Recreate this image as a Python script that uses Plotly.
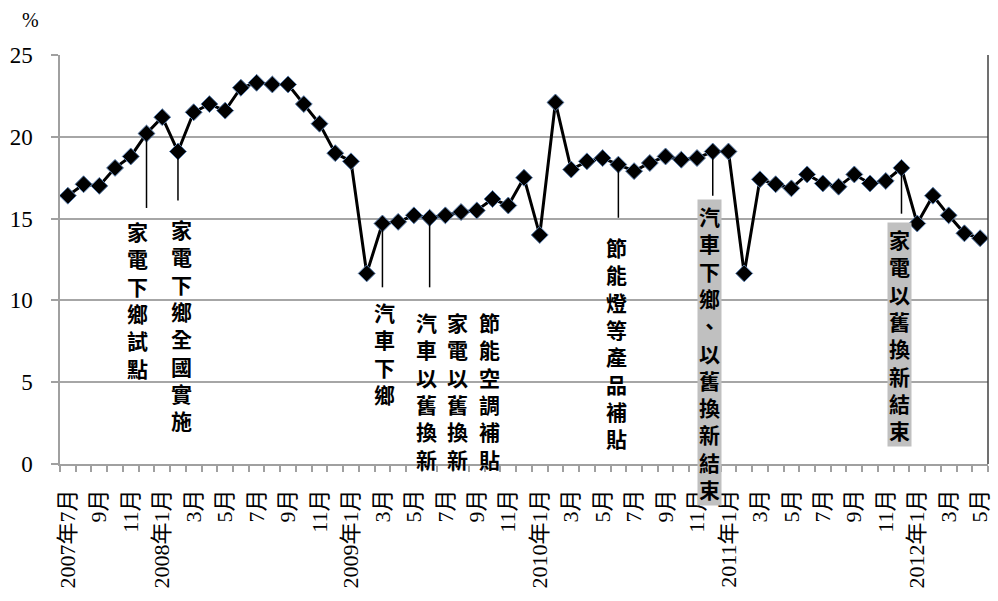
import plotly.graph_objects as go

# ---- data ----
years = [2007]*6 + [2008]*12 + [2009]*12 + [2010]*12 + [2011]*12 + [2012]*5
months = list(range(7, 13)) + list(range(1, 13))*4 + list(range(1, 6))
values = [16.4, 17.1, 17.0, 18.1, 18.8, 20.2,
          21.2, 19.1, 21.5, 22.0, 21.6, 23.0, 23.3, 23.2, 23.2, 22.0, 20.8, 19.0,
          18.5, 11.65, 14.7, 14.8, 15.2, 15.05, 15.2, 15.4, 15.5, 16.2, 15.8, 17.5,
          14.0, 22.1, 18.0, 18.5, 18.7, 18.3, 17.9, 18.4, 18.8, 18.6, 18.7, 19.1,
          19.1, 11.65, 17.4, 17.1, 16.85, 17.7, 17.15, 16.95, 17.7, 17.15, 17.3, 18.1,
          14.7, 16.4, 15.2, 14.1, 13.8]
tick_labels = ["2007年7月", "9月", "11月",
               "2008年1月", "3月", "5月", "7月", "9月", "11月",
               "2009年1月", "3月", "5月", "7月", "9月", "11月",
               "2010年1月", "3月", "5月", "7月", "9月", "11月",
               "2011年1月", "3月", "5月", "7月", "9月", "11月",
               "2012年1月", "3月", "5月"]
event_texts = ["家電下鄉試點", "家電下鄉全國實施", "汽車下鄉", "汽車以舊換新",
               "家電以舊換新", "節能空調補貼", "節能燈等產品補貼",
               "汽車下鄉、以舊換新結束", "家電以舊換新結束"]
event_months = ["2007-12", "2008-02", "2009-03", "2009-06",
                None, None, "2010-06", "2010-12", "2011-12"]

# ---- layout specs (positions/styles) ----
text_pos = [(4.45, 15.3), (7.25, 15.4), (20.1, 10.3), (22.8, 9.7),
            (24.75, 9.7), (26.8, 9.7), (34.9, 14.3), (40.8, 16.2), (52.9, 14.8)]
line_end = [15.65, 16.1, 10.8, 10.8, None, None, 15.05, 16.4, 15.3]
shaded = [False]*7 + [True, True]

keys = [f"{y}-{m:02d}" for y, m in zip(years, months)]
xs = list(range(len(values)))

fig = go.Figure()
fig.add_trace(go.Scatter(
    x=xs, y=values, mode="lines+markers",
    line=dict(color="black", width=3),
    marker=dict(symbol="diamond", size=13, color="black",
                line=dict(color="#5b7fae", width=1)),
    hoverinfo="skip", showlegend=False))

shapes = []
annotations = []
for i, txt in enumerate(event_texts):
    if event_months[i] is not None:
        k = keys.index(event_months[i])
        shapes.append(dict(type="line", xref="x", yref="y",
                           x0=k, x1=k, y0=values[k], y1=line_end[i],
                           line=dict(color="black", width=1.5)))
    tx, ty = text_pos[i]
    annotations.append(dict(
        x=tx, y=ty, xref="x", yref="y", xanchor="center", yanchor="top",
        text="<br>".join(list(txt)), showarrow=False,
        font=dict(family="Noto Sans CJK TC", size=21, color="black", weight="bold"),
        bgcolor="#c0c0c0" if shaded[i] else "rgba(0,0,0,0)",
        borderpad=1))

annotations.append(dict(x=-0.032, y=1.085, xref="paper", yref="paper",
                        xanchor="center", yanchor="middle", text="%", showarrow=False,
                        font=dict(family="Liberation Serif", size=20, color="black")))

# right border of plot area
shapes.append(dict(type="line", xref="paper", yref="paper", x0=1, x1=1, y0=0, y1=1,
                   line=dict(color="#404040", width=1.5)))

fig.update_layout(
    width=998, height=601,
    margin=dict(l=60, r=6, t=55, b=137),
    plot_bgcolor="white", paper_bgcolor="white",
    shapes=shapes, annotations=annotations,
    xaxis=dict(range=[-0.5, len(values) - 0.5],
               tickmode="array", tickvals=xs[::2], ticktext=tick_labels,
               tickangle=-90, ticks="", showgrid=False, zeroline=False,
               showline=True, linecolor="#a0a0a0", linewidth=1.5,
               ticklabelstandoff=15,
               tickfont=dict(family="Liberation Serif, Noto Sans CJK TC", size=22, color="black"),
               minor=dict(tickmode="linear", tick0=-0.5, dtick=1, ticks="outside",
                          ticklen=6, tickcolor="#a0a0a0", tickwidth=1.5, showgrid=False)),
    yaxis=dict(range=[0, 25], tickvals=[0, 5, 10, 15, 20, 25],
               showgrid=True, gridcolor="#a6a6a6", gridwidth=1.5,
               zeroline=False, showline=True, linecolor="#a0a0a0", linewidth=1.5,
               ticks="outside", ticklen=7, tickcolor="#a0a0a0", tickwidth=1.5,
               ticklabelstandoff=14,
               tickfont=dict(family="Liberation Serif", size=23, color="black")),
)

fig.write_html("out.html", config={"displayModeBar": False},
               post_script="document.body.style.margin='0px';")
